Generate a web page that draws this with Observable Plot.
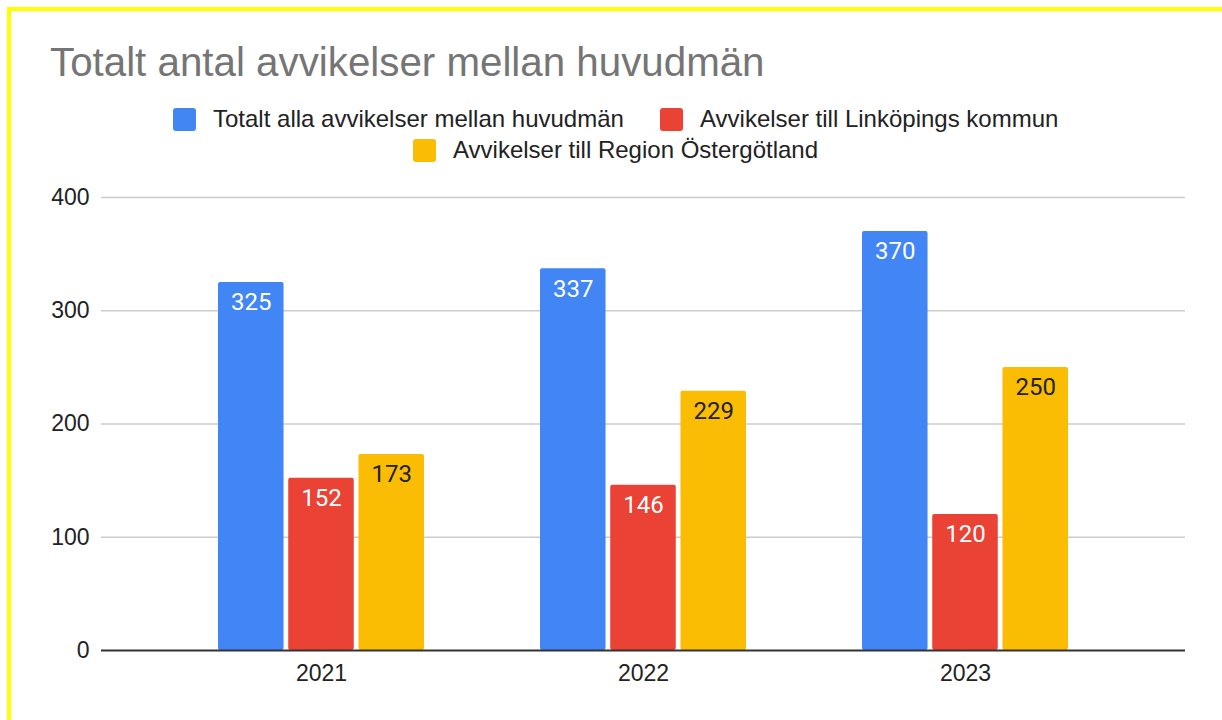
<!DOCTYPE html>
<html>
<head>
<meta charset="utf-8">
<script src="https://cdn.jsdelivr.net/npm/d3@7"></script>
<script src="https://cdn.jsdelivr.net/npm/@observablehq/plot@0.6"></script>
<style>
  html, body { margin: 0; padding: 0; background: #fff; }
  body { width: 1222px; height: 720px; position: relative; overflow: hidden; font-family: "Liberation Sans", Arial, sans-serif; }
  #frame { position: absolute; left: 7px; top: 7px; width: 1230px; height: 730px; border-top: 4px solid #ffff00; border-left: 4px solid #ffff00; box-sizing: border-box; pointer-events: none; }
  #title { position: absolute; left: 50px; top: 43px; font-size: 40.3px; line-height: 40px; color: #757575; white-space: nowrap; }
  .sw { position: absolute; width: 23px; height: 23px; border-radius: 3px; }
  .lt { position: absolute; font-size: 24px; line-height: 24px; color: #222; white-space: nowrap; }
  #chart { position: absolute; left: 0; top: 170px; }
</style>
</head>
<body>
<div id="title">Totalt antal avvikelser mellan huvudmän</div>
<div id="legend"></div>
<div id="chart"></div>
<div id="frame"></div>
<script>
const years = ["2021", "2022", "2023"];
const seriesNames = [
  "Totalt alla avvikelser mellan huvudmän",
  "Avvikelser till Linköpings kommun",
  "Avvikelser till Region Östergötland"
];
const totaltValues = [325, 337, 370];
const linkopingValues = [152, 146, 120];
const regionValues = [173, 229, 250];
const seriesColors = ["#4285F4", "#EA4335", "#FBBC04"];
const yTicks = [0, 100, 200, 300, 400];

const seriesValues = [totaltValues, linkopingValues, regionValues];
const data = [];
years.forEach((yr, i) => {
  seriesNames.forEach((s, j) => {
    data.push({year: yr, series: s, value: seriesValues[j][i], idx: j});
  });
});

// Legend (HTML)
const legendPos = [
  {sw: [173, 108], tx: [213, 107]},
  {sw: [660, 108], tx: [700, 107]},
  {sw: [413, 139], tx: [453, 138]}
];
const legend = document.getElementById("legend");
seriesNames.forEach((s, j) => {
  const sw = document.createElement("div");
  sw.className = "sw";
  sw.style.left = legendPos[j].sw[0] + "px";
  sw.style.top = legendPos[j].sw[1] + "px";
  sw.style.background = seriesColors[j];
  legend.appendChild(sw);
  const t = document.createElement("div");
  t.className = "lt";
  t.style.left = legendPos[j].tx[0] + "px";
  t.style.top = legendPos[j].tx[1] + "px";
  t.textContent = s;
  legend.appendChild(t);
});

const W = 1222, H = 550, mL = 101, mR = 37, mT = 27, mB = 70;
const groupPadding = 0.36, barPadding = 0.06;

// band geometry derived from the same scale Plot will use
const xScale = Plot.scale({x: {type: "band", domain: years, range: [mL, W - mR], padding: groupPadding}});
const sub = d3.scaleBand().domain(seriesNames).range([0, xScale.bandwidth]).paddingInner(barPadding);
const B = xScale.bandwidth;

const marks = [
  Plot.ruleY(yTicks.filter(v => v > 0), {stroke: "#cccccc", strokeWidth: 1.3})
];
seriesNames.forEach((s, j) => {
  const rows = data.filter(d => d.series === s);
  const left = sub(s);
  const right = B - sub(s) - sub.bandwidth();
  const center = sub(s) + sub.bandwidth() / 2 - B / 2;
  marks.push(Plot.barY(rows, {x: "year", y: "value", fill: "series", insetLeft: left, insetRight: right, rx: 2}));
  marks.push(Plot.text(rows, {x: "year", y: "value", text: d => String(d.value), dx: center, dy: 20,
    fill: j < 2 ? "#ffffff" : "#222222", fontFamily: "Roboto", fontSize: 24}));
});
marks.push(Plot.ruleY([0], {stroke: "#333333", strokeWidth: 2}));

const chart = Plot.plot({
  width: W,
  height: H,
  marginTop: mT,
  marginBottom: mB,
  marginLeft: mL,
  marginRight: mR,
  style: {fontFamily: "'Liberation Sans', Arial, sans-serif", fontSize: "23px", color: "#222", background: "transparent"},
  x: {domain: years, padding: groupPadding, label: null, tickSize: 0, tickPadding: 14},
  y: {domain: [0, 400], ticks: yTicks, tickSize: 0, tickPadding: 12, label: null},
  color: {domain: seriesNames, range: seriesColors},
  marks
});
document.getElementById("chart").appendChild(chart);
</script>
</body>
</html>
